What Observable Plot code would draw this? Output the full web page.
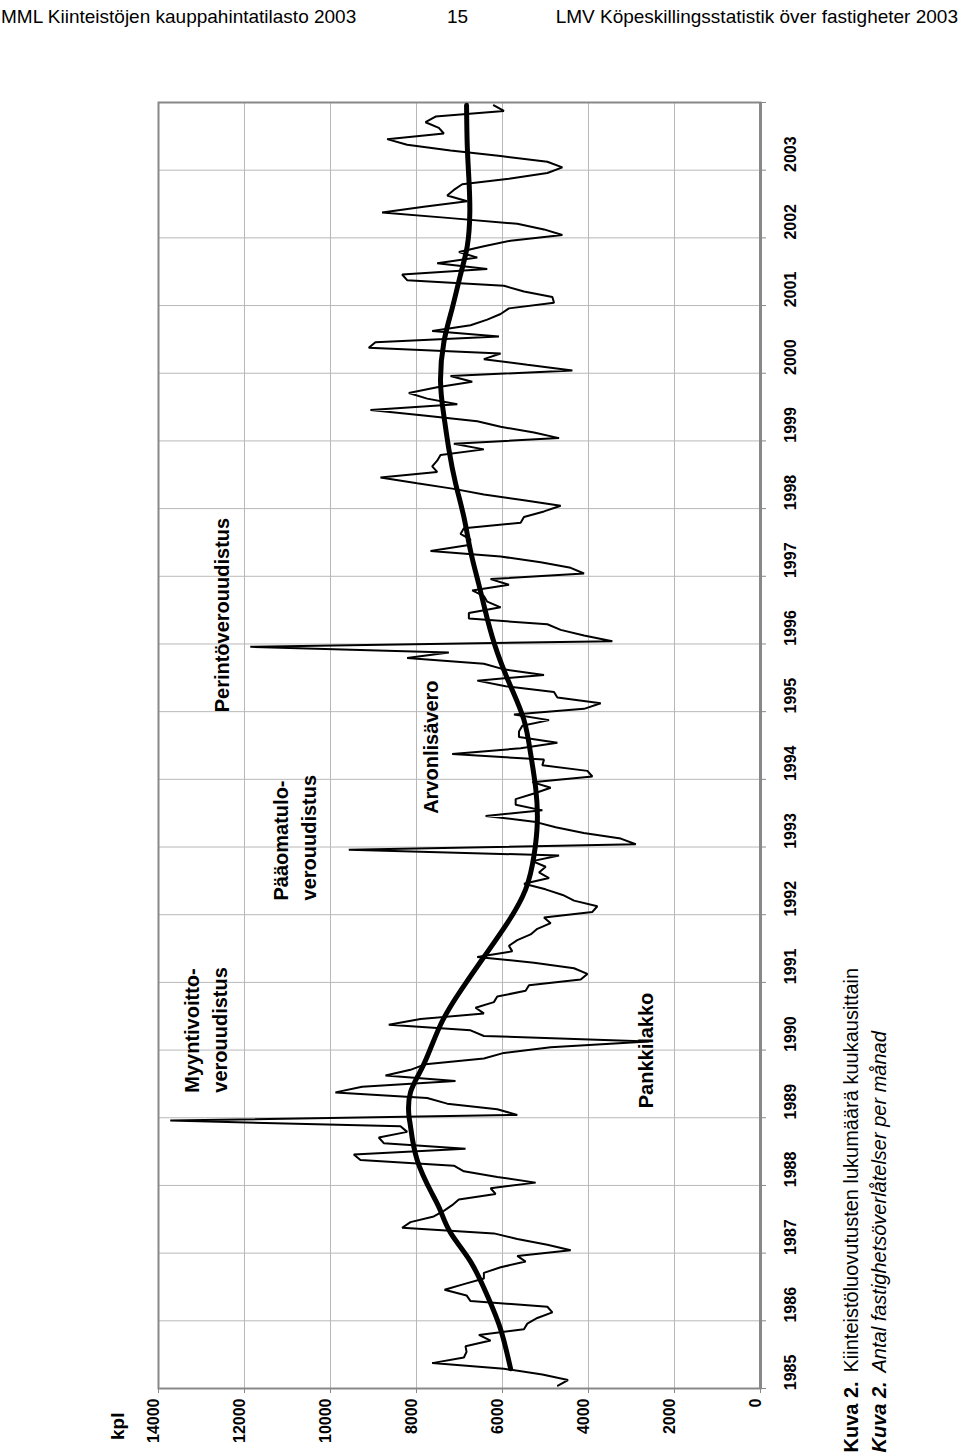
<!DOCTYPE html>
<html>
<head>
<meta charset="utf-8">
<script src="https://cdn.jsdelivr.net/npm/d3@7"></script>
<script src="https://cdn.jsdelivr.net/npm/@observablehq/plot@0.6"></script>
<style>
  html, body { margin: 0; padding: 0; background: #fff; }
  body { width: 960px; height: 1453px; overflow: hidden; font-family: "Liberation Sans", Arial, sans-serif; }
  #header { position: relative; height: 40px; width: 960px; font-size: 19px; color: #000; }
  #header span { position: absolute; top: 6px; white-space: nowrap; }
  #chart svg { display: block; }
</style>
</head>
<body>
<div id="header">
  <span id="h1" style="left:1px">MML Kiinteistöjen kauppahintatilasto 2003</span>
  <span id="h2" style="left:447px">15</span>
  <span id="h3" style="right:2px">LMV Köpeskillingsstatistik över fastigheter 2003</span>
</div>
<div id="chart"></div>
<script>
// ---- data ----
const years = [1985,1986,1987,1988,1989,1990,1991,1992,1993,1994,1995,1996,1997,1998,1999,2000,2001,2002,2003];
const valueTicks = [0,2000,4000,6000,8000,10000,12000,14000];
const valueTickLabels = ["0","2000","4000","6000","8000","10000","12000","14000"];

// monthly number of transfers, one row per year (Jan..Dec)
const y1985 = [4710,4477,5074,5967,7636,6898,6836,6860,6277,6549,5501,5423];
const y1986 = [5190,4840,4957,6743,6836,7348,6898,6433,6433,6044,5462,5656];
const y1987 = [4414,4957,5656,6200,8334,8140,7598,7365,7171,7016,6161,6277];
const y1988 = [5229,6121,6898,7131,9304,9459,6860,8761,8877,8217,8373,13727];
const y1989 = [5656,6122,7286,7752,9886,9265,7093,8722,8140,7790,6433,5967];
const y1990 = [4880,2600,6433,6743,8645,7907,6433,6627,6200,6122,5462,5384];
const y1991 = [4181,4026,4336,5267,6588,5773,5850,5656,5346,5190,4880,5035];
const y1992 = [3910,3794,4336,4600,5000,5500,4918,5151,4996,5306,4685,9575];
const y1993 = [2900,3250,4111,4763,5267,6393,5073,5694,5694,5267,4880,5306];
const y1994 = [3910,4026,5073,5035,7170,5578,4724,5617,5617,5539,4918,5733];
const y1995 = [4103,3716,4724,4802,5927,6587,5035,5967,6433,8218,7248,11865];
const y1996 = [3445,4104,4647,4957,6782,6782,6044,6355,6433,6704,5850,6277];
const y1997 = [4104,4414,5112,6044,7674,6820,6743,6976,6898,5578,5501,5035];
const y1998 = [4647,5501,6433,7131,7985,8838,7519,7635,7519,7441,6433,7131];
const y1999 = [4685,5267,6044,6587,7829,9071,7052,7752,8179,7519,6704,7209];
const y2000 = [4375,5423,6433,6044,9110,8955,6083,7635,6743,6355,6044,5850];
const y2001 = [4802,4840,5501,5967,8218,8334,6355,7519,6587,7014,6433,5812];
const y2002 = [4608,5035,5656,7209,8800,7830,6820,7286,7131,6937,5850,4957];
const y2003 = [4608,4957,6044,7209,8218,8683,7364,7480,7790,7557,5967,6200];
const monthly = [y1985,y1986,y1987,y1988,y1989,y1990,y1991,y1992,y1993,y1994,y1995,y1996,y1997,y1998,y1999,y2000,y2001,y2002,y2003].flat();

// smoothed trend (thick line): month index since Jan 1985, value
const trendMonth = [3,10,16,22,27,31,34,40,46,48,52,57,64,70,76,82,88,94,100,106,112,118,124,130,136,142,148,154,160,166,172,178,185,191,197,202,208,214,220,227];
const trendValue = [5811,6044,6355,6743,7200,7441,7635,7985,8140,8178,8140,7829,7441,6976,6433,5889,5462,5267,5190,5229,5345,5500,5811,6122,6355,6549,6743,6898,7092,7247,7364,7441,7364,7170,6976,6820,6760,6782,6820,6836];

// annotations (value, year position, text)
const noteText = ["Myyntivoitto-\nverouudistus","Pääomatulo-\nverouudistus","Arvonlisävero","Perintöverouudistus","Pankkilakko"];
const noteValue = [12930,10860,7700,12560,2720];
const noteYear = [1989.37,1992.21,1993.49,1994.99,1989.14];

const captionLabel = ["Kuva 2.","Kuva 2."];
const captionText = ["Kiinteistöluovutusten lukumäärä kuukausittain","Antal fastighetsöverlåtelser per månad"];

// ---- build tables ----
const series = monthly.map((v, i) => ({t: 1985 + (i + 0.5) / 12, v}));
const trend = trendMonth.map((m, i) => ({t: 1985 + (m + 0.5) / 12, v: trendValue[i]}));
const notes = noteText.map((s, i) => ({s, v: noteValue[i], t: noteYear[i]}));
const boundaries = years.slice(1);
const yearTicks = years.concat([2004]);

const font = "Liberation Sans, Arial, sans-serif";

const chart = Plot.plot({
  width: 960,
  height: 1413,
  marginLeft: 158,
  marginRight: 200,
  marginTop: 62,
  marginBottom: 65,
  style: {fontFamily: font, background: "#fff", overflow: "visible"},
  x: {domain: [0, 14000], reverse: true, axis: null},
  y: {domain: [1985, 2004], axis: null},
  marks: [
    Plot.ruleX(valueTicks.slice(1, -1), {stroke: "#b8b8b8", strokeWidth: 1}),
    Plot.ruleY(boundaries, {stroke: "#b8b8b8", strokeWidth: 1}),
    Plot.axisY(yearTicks, {anchor: "right", tickSize: 5, tickFormat: () => "", stroke: "#888", label: null}),
    Plot.axisX(valueTicks, {anchor: "bottom", tickSize: 5, tickFormat: () => "", stroke: "#888", label: null}),
    Plot.frame({stroke: "#888", strokeWidth: 2}),
    Plot.ruleX([0], {stroke: "#888", strokeWidth: 3}),
    Plot.line(trend, {x: "v", y: "t", stroke: "#000", strokeWidth: 5, curve: "natural"}),
    Plot.line(series, {x: "v", y: "t", stroke: "#000", strokeWidth: 2, strokeLinejoin: "miter"}),
    // year labels
    Plot.text(years, {y: d => d + 0.5, frameAnchor: "right", dx: 30, rotate: -90, text: d => String(d), fontSize: 16, fontWeight: "bold", fill: "#000"}),
    // value labels
    Plot.text(valueTicks, {x: d => d, frameAnchor: "bottom", dy: 10, rotate: -90, textAnchor: "end", text: (d, i) => valueTickLabels[i], fontSize: 16, fontWeight: "bold", fill: "#000"}),
    Plot.text(["kpl"], {frameAnchor: "bottom-left", dx: -35, dy: 24, rotate: -90, textAnchor: "end", text: d => d, fontSize: 19, fontWeight: "bold", fill: "#000"}),
    // annotations
    Plot.text(notes, {x: "v", y: "t", text: "s", rotate: -90, textAnchor: "start", lineHeight: 1.4, fontSize: 20, fontWeight: "bold", fill: "#000"}),
    // captions
    Plot.text([captionLabel[0]], {frameAnchor: "bottom-right", dx: 97, dy: 64, rotate: -90, textAnchor: "start", text: d => d, fontSize: 20, fontWeight: "bold", fill: "#000"}),
    Plot.text([captionText[0]], {frameAnchor: "bottom-right", dx: 97, dy: -16, rotate: -90, textAnchor: "start", text: d => d, fontSize: 20, fill: "#000"}),
    Plot.text([captionLabel[1]], {frameAnchor: "bottom-right", dx: 125, dy: 64, rotate: -90, textAnchor: "start", text: d => d, fontSize: 20, fontWeight: "bold", fontStyle: "italic", fill: "#000"}),
    Plot.text([captionText[1]], {frameAnchor: "bottom-right", dx: 125, dy: -16, rotate: -90, textAnchor: "start", text: d => d, fontSize: 20, fontStyle: "italic", fill: "#000"})
  ]
});
document.getElementById("chart").appendChild(chart);
</script>
</body>
</html>
